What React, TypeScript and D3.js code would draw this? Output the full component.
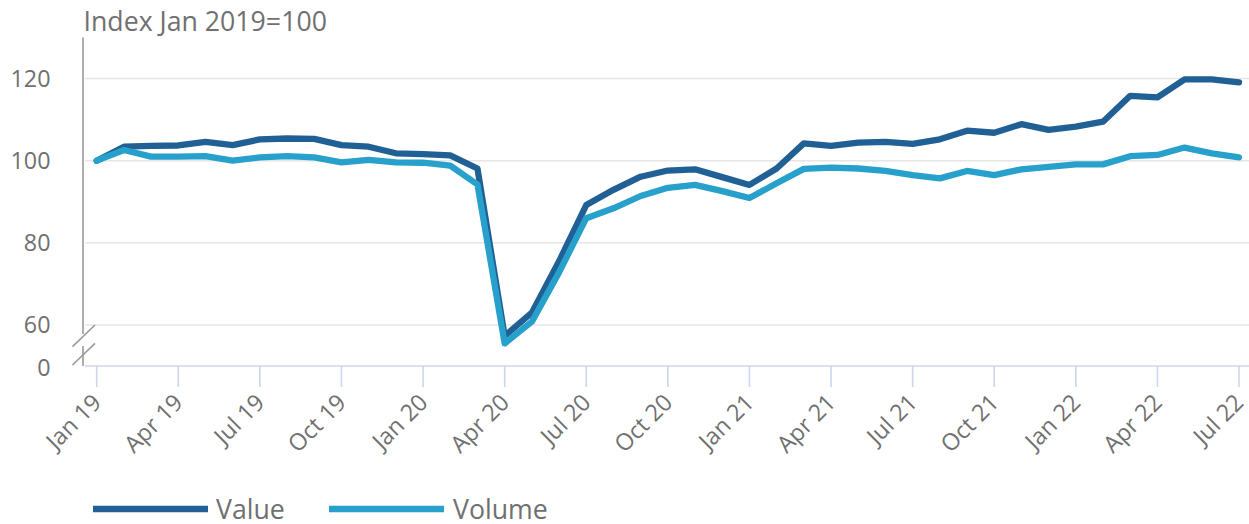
import React from "react";
import * as d3 from "d3";

const categories = [
  "Jan 19","Feb 19","Mar 19","Apr 19","May 19","Jun 19","Jul 19","Aug 19","Sep 19","Oct 19","Nov 19","Dec 19",
  "Jan 20","Feb 20","Mar 20","Apr 20","May 20","Jun 20","Jul 20","Aug 20","Sep 20","Oct 20","Nov 20","Dec 20",
  "Jan 21","Feb 21","Mar 21","Apr 21","May 21","Jun 21","Jul 21","Aug 21","Sep 21","Oct 21","Nov 21","Dec 21",
  "Jan 22","Feb 22","Mar 22","Apr 22","May 22","Jun 22","Jul 22",
];

const valueSeries = [
  100, 103.4, 103.6, 103.7, 104.6, 103.8, 105.2, 105.4, 105.3, 103.8, 103.4, 101.8,
  101.6, 101.3, 98.1, 57.3, 63.0, 75.5, 89.2, 92.9, 96.1, 97.6, 97.9, 96.0,
  94.1, 98.1, 104.2, 103.6, 104.4, 104.6, 104.1, 105.2, 107.3, 106.8, 108.9, 107.5,
  108.3, 109.5, 115.8, 115.4, 119.8, 119.8, 119.1,
];

const volumeSeries = [
  100, 102.6, 101.0, 101.0, 101.1, 100.0, 100.8, 101.1, 100.8, 99.6, 100.2, 99.6,
  99.5, 98.8, 94.2, 55.5, 60.8, 72.8, 86.0, 88.4, 91.4, 93.4, 94.1, 92.6,
  90.9, 94.5, 98.0, 98.3, 98.1, 97.5, 96.5, 95.7, 97.5, 96.5, 97.9, 98.5,
  99.1, 99.1, 101.1, 101.4, 103.2, 101.8, 100.8,
];

const xTickLabels = [
  "Jan 19","Apr 19","Jul 19","Oct 19","Jan 20","Apr 20","Jul 20","Oct 20",
  "Jan 21","Apr 21","Jul 21","Oct 21","Jan 22","Apr 22","Jul 22",
];

const yTicks = [60, 80, 100, 120];
const yDomain = [50, 130];
const yBreakLabel = "0";

const seriesNames = ["Value", "Volume"];
const seriesColors = ["#206095", "#27a0cc"];
const title = "Index Jan 2019=100";

export default function App() {
  const W = 1249;
  const H = 524;
  const plotLeft = 83;
  const plotRight = 1249;
  const axisY = 366;
  const topY = 37.5;

  const x = d3.scalePoint<string>().domain(categories).range([96.7, 1239]);
  const y = d3.scaleLinear().domain(yDomain).range([axisY, topY]);

  const line = d3
    .line<number>()
    .x((_, i) => x(categories[i]) as number)
    .y((d) => y(d));

  const textColor = "#707070";
  const font = "'Open Sans', sans-serif";
  const series = [valueSeries, volumeSeries];

  return (
    <div style={{ position: "absolute", left: 0, top: 0 }}>
      <svg width={W} height={H} style={{ display: "block", fontFamily: font }}>
        <rect x={0} y={0} width={W} height={H} fill="#fff" />
        {/* gridlines */}
        {yTicks.map((t) => (
          <line key={t} x1={plotLeft + 2} x2={plotRight} y1={y(t)} y2={y(t)} stroke="#e6e6e6" strokeWidth={1.6} />
        ))}
        {/* y axis line with break */}
        <line x1={plotLeft} x2={plotLeft} y1={topY} y2={334} stroke="#9a9a9a" strokeWidth={1.6} />
        <line x1={plotLeft} x2={plotLeft} y1={346} y2={axisY} stroke="#9a9a9a" strokeWidth={1.6} />
        <line x1={72.5} y1={346.7} x2={95} y2={325} stroke="#9a9a9a" strokeWidth={1.6} />
        <line x1={72.5} y1={365} x2={95} y2={343.3} stroke="#9a9a9a" strokeWidth={1.6} />
        {/* y labels */}
        {yTicks.map((t) => (
          <text key={t} x={50.5} y={y(t)} dy="0.36em" textAnchor="end" fontSize={23.3} fill={textColor}>
            {t}
          </text>
        ))}
        <text x={50.5} y={axisY + 2} dy="0.36em" textAnchor="end" fontSize={23.3} fill={textColor}>
          {yBreakLabel}
        </text>
        {/* x axis */}
        <line x1={plotLeft + 2} x2={plotRight} y1={axisY} y2={axisY} stroke="#ccd6eb" strokeWidth={1.6} />
        {xTickLabels.map((c) => {
          const px = x(c) as number;
          return (
            <g key={c}>
              <line x1={px} x2={px} y1={axisY} y2={axisY + 21} stroke="#ccd6eb" strokeWidth={1.6} />
              <text
                transform={`translate(${px + 6},${axisY + 38}) rotate(-45)`}
                textAnchor="end"
                fontSize={23.3}
                fill={textColor}
              >
                {c}
              </text>
            </g>
          );
        })}
        {/* series */}
        {series.map((s, i) => (
          <path
            key={seriesNames[i]}
            d={line(s) as string}
            fill="none"
            stroke={seriesColors[i]}
            strokeWidth={6.3}
            strokeLinejoin="round"
            strokeLinecap="round"
          />
        ))}
        {/* title */}
        <text x={83.5} y={31} fontSize={26.7} fill={textColor}>
          {title}
        </text>
        {/* legend */}
        <line x1={93} x2={208} y1={509} y2={509} stroke={seriesColors[0]} strokeWidth={6.5} />
        <text x={216} y={519} fontSize={26.7} fill={textColor}>
          {seriesNames[0]}
        </text>
        <line x1={329} x2={444} y1={509} y2={509} stroke={seriesColors[1]} strokeWidth={6.5} />
        <text x={453} y={519} fontSize={26.7} fill={textColor}>
          {seriesNames[1]}
        </text>
      </svg>
    </div>
  );
}
